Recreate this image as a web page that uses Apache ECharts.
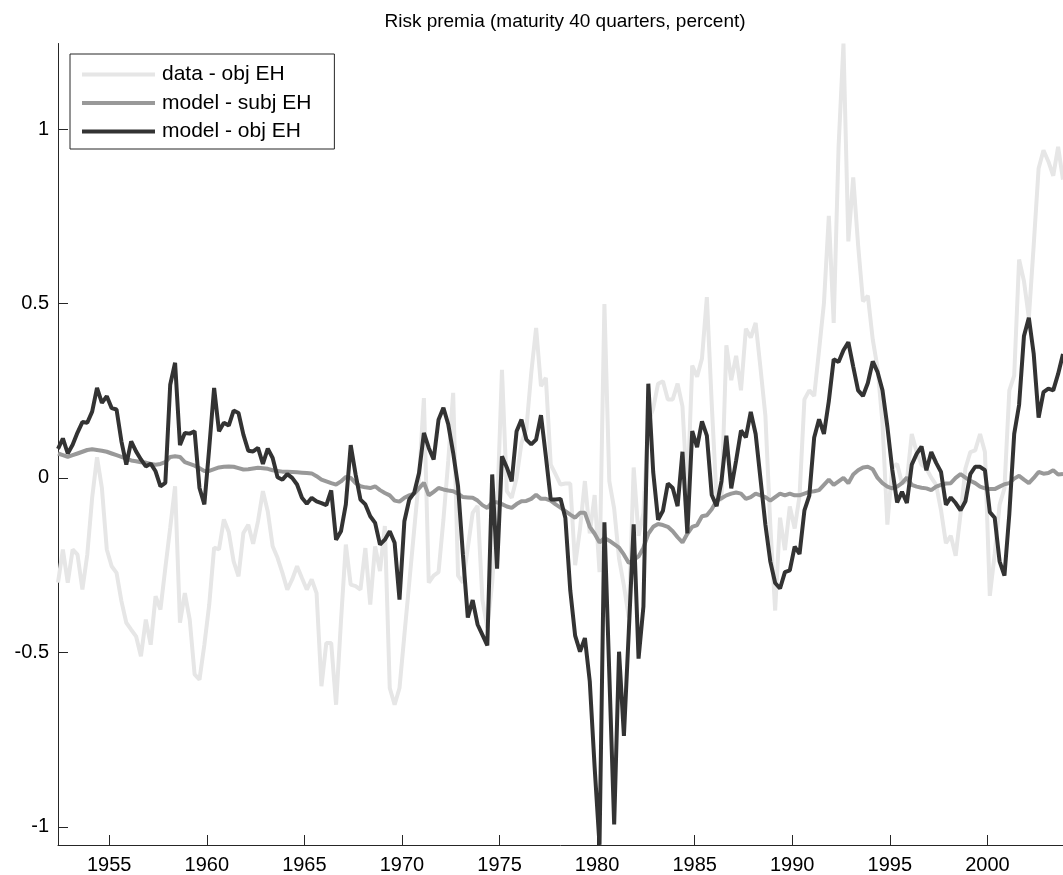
<!DOCTYPE html>
<html lang="en">

<head>
  <meta charset="UTF-8" />
  <title>Risk premia</title>
  <script src="https://cdn.jsdelivr.net/npm/echarts@6.0.0/dist/echarts.min.js"></script>
  <style>
    html, body { margin: 0; padding: 0; background: #fff; }
    #main { width: 1063px; height: 875px; }
  </style>
</head>

<body>
  <div id="main"></div>
</body>
<script>
  // quarterly observations, first one is 1952Q2 (plotted mid-quarter)
  var firstQuarter = 1952.375;

  var dataObj = [
    -0.30, -0.205, -0.30, -0.205, -0.22, -0.32, -0.22, -0.057, 0.059, -0.029,
    -0.205, -0.253, -0.272, -0.353, -0.415, -0.435, -0.454, -0.511, -0.406, -0.478,
    -0.339, -0.377, -0.258, -0.143, -0.024, -0.415, -0.33, -0.406, -0.563, -0.578,
    -0.478, -0.363, -0.20, -0.205, -0.119, -0.155,
    -0.239, -0.282, -0.158, -0.134, -0.189, -0.124, -0.038, -0.096, -0.196, -0.229,
    -0.272, -0.32, -0.291, -0.253, -0.287, -0.32, -0.291, -0.33, -0.597, -0.473,
    -0.473, -0.65, -0.411, -0.191, -0.306, -0.31, -0.32, -0.201, -0.363, -0.196,
    -0.267, -0.138, -0.602, -0.65, -0.602,
    -0.45, -0.30, -0.15, 0.0, 0.229, -0.3, -0.28, -0.27, -0.12, 0.05,
    0.244, -0.28, -0.3, -0.2, -0.1, -0.08, -0.35, -0.43, -0.3, -0.1,
    0.31, -0.038, -0.057, 0.0, 0.1, 0.14, 0.3, 0.43, 0.263, 0.287,
    0.038, 0.01, -0.019, -0.016, -0.016,
    -0.25, -0.146, -0.009, -0.159, -0.049, -0.27, 0.498, -0.009, -0.088, -0.231,
    -0.309, -0.4, 0.03, -0.166, -0.1, 0.16, 0.199, 0.27, 0.277, 0.225,
    0.225, 0.27, 0.205, -0.05, 0.322, 0.29, 0.342, 0.518, 0.212, -0.062,
    -0.062, 0.38, 0.28, 0.35,
    0.251, 0.428, 0.402, 0.444, 0.314, 0.178, -0.134, -0.38, -0.114, -0.207,
    -0.082, -0.145, -0.051, 0.225, 0.251, 0.235, 0.366, 0.501, 0.751, 0.444,
    0.949, 1.245, 0.678, 0.861, 0.668, 0.506, 0.522, 0.397, 0.314, 0.157,
    -0.134, 0.03, 0.04, -0.015,
    -0.009, 0.126, 0.074, 0.038, 0.027, 0.001, -0.02, -0.093, -0.187, -0.166,
    -0.223, -0.103, 0.027, 0.074, 0.079, 0.126, 0.074, -0.338, -0.218, -0.077,
    -0.03, 0.251, 0.293, 0.626, 0.564, 0.459, 0.668, 0.887, 0.939, 0.907,
    0.866, 0.949, 0.855
  ];

  var modelSubj = [
    0.07, 0.065, 0.06, 0.065, 0.07, 0.075, 0.08, 0.082, 0.08, 0.078,
    0.075, 0.07, 0.065, 0.06, 0.055, 0.05, 0.048, 0.045, 0.044, 0.04,
    0.038, 0.04, 0.045, 0.06, 0.062, 0.06, 0.045, 0.04, 0.035, 0.028,
    0.02, 0.02, 0.025, 0.03, 0.032, 0.033,
    0.032, 0.028, 0.024, 0.025, 0.027, 0.029, 0.028, 0.026, 0.022, 0.02,
    0.018, 0.018, 0.017, 0.016, 0.015, 0.014, 0.013, 0.005, -0.005, -0.01,
    -0.015, -0.019, -0.01, 0.003, 0.0, -0.015, -0.024, -0.027, -0.029, -0.024,
    -0.035, -0.043, -0.05, -0.065, -0.068,
    -0.057, -0.05, -0.045, -0.03, -0.014, -0.05, -0.04, -0.029, -0.033, -0.036,
    -0.038, -0.045, -0.055, -0.056, -0.057, -0.065, -0.078, -0.086, -0.07, -0.07,
    -0.075, -0.082, -0.086, -0.075, -0.067, -0.066, -0.06, -0.048, -0.06, -0.06,
    -0.065, -0.076, -0.085, -0.095,
    -0.105, -0.114, -0.1, -0.1, -0.14, -0.16, -0.185, -0.172, -0.18, -0.19,
    -0.2, -0.22, -0.244, -0.235, -0.225, -0.2, -0.16, -0.14, -0.132, -0.135,
    -0.14, -0.153, -0.17, -0.185, -0.16, -0.14, -0.135, -0.11, -0.107, -0.09,
    -0.065, -0.058, -0.05, -0.045, -0.042,
    -0.045, -0.06, -0.055, -0.045, -0.05, -0.055, -0.065, -0.055, -0.045, -0.05,
    -0.045, -0.05, -0.05, -0.045, -0.04, -0.038, -0.035, -0.02, -0.005, -0.02,
    -0.01, 0.0, -0.015, 0.01, 0.022, 0.03, 0.032, 0.025, 0.0, -0.015,
    -0.025, -0.03, -0.025, -0.015,
    0.001, -0.02, -0.025, -0.028, -0.03, -0.035, -0.025, -0.02, -0.016, -0.015,
    0.0, 0.011, 0.001, -0.008, -0.015, -0.025, -0.03, -0.032, -0.032, -0.025,
    -0.018, -0.015, -0.002, 0.006, -0.005, -0.015, 0.0, 0.017, 0.012, 0.014,
    0.022, 0.01, 0.011
  ];

  var modelObj = [
    0.083, 0.113, 0.07, 0.095, 0.13, 0.16, 0.158, 0.19, 0.258, 0.215,
    0.234, 0.2, 0.196, 0.105, 0.038, 0.105, 0.076, 0.053, 0.033, 0.041,
    0.019, -0.024, -0.014, 0.267, 0.33, 0.094, 0.129, 0.127, 0.134, -0.029,
    -0.076, 0.086, 0.258, 0.134, 0.158, 0.15,
    0.193, 0.186, 0.124, 0.078, 0.076, 0.086, 0.04, 0.084, 0.057, 0.002,
    -0.005, 0.011, 0.0, -0.019, -0.057, -0.074, -0.057, -0.067, -0.072, -0.078,
    -0.036, -0.177, -0.153, -0.076, 0.094, 0.01, -0.062, -0.076, -0.11, -0.129,
    -0.191, -0.177, -0.153, -0.186, -0.349,
    -0.124, -0.062, -0.043, 0.014, 0.129, 0.086, 0.053, 0.167, 0.201, 0.153,
    0.072, -0.024, -0.22, -0.40, -0.35, -0.42, -0.45, -0.48, 0.01, -0.26,
    0.062, 0.03, -0.01, 0.134, 0.167, 0.11, 0.096, 0.11, 0.18, 0.062,
    -0.062, -0.062, -0.06, -0.115, -0.322,
    -0.452, -0.498, -0.459, -0.583, -0.83, -1.052, -0.127, -0.56, -0.993, -0.498,
    -0.739, -0.44, -0.133, -0.518, -0.368, 0.27, 0.017, -0.12, -0.094, -0.016,
    -0.029, -0.081, 0.075, -0.159, 0.134, 0.088, 0.162, 0.121, -0.049, -0.081,
    -0.009, 0.121, -0.03, 0.05,
    0.136, 0.116, 0.189, 0.126, -0.004, -0.134, -0.239, -0.301, -0.317, -0.27,
    -0.265, -0.197, -0.218, -0.093, -0.051, 0.116, 0.168, 0.126, 0.22, 0.34,
    0.332, 0.366, 0.389, 0.319, 0.251, 0.235, 0.272, 0.334, 0.303, 0.251,
    0.147, 0.024, -0.07, -0.04,
    -0.072, 0.038, 0.069, 0.09, 0.022, 0.074, 0.043, 0.017, -0.077, -0.056,
    -0.072, -0.093, -0.067, 0.011, 0.032, 0.032, 0.022, -0.098, -0.114, -0.239,
    -0.28, -0.103, 0.126, 0.209, 0.407, 0.459, 0.355, 0.173, 0.246, 0.256,
    0.251, 0.298, 0.355
  ];

  var yearTicks = [1955, 1960, 1965, 1970, 1975, 1980, 1985, 1990, 1995, 2000];
  var valueTicks = [-1, -0.5, 0, 0.5, 1];

  var dates = dataObj.map(function (v, i) { return firstQuarter + i * 0.25; });

  function pairs(values) {
    return values.map(function (v, i) { return [dates[i], v]; });
  }

  var font = "'Liberation Sans', Arial, sans-serif";
  var axisColor = "#262626";

  var myChart = echarts.init(document.getElementById("main"), null, { renderer: "canvas" });

  var option = {
    animation: false,
    backgroundColor: "#ffffff",
    title: {
      text: "Risk premia (maturity 40 quarters, percent)",
      left: 560,
      top: 7,
      textAlign: "center",
      textStyle: { fontFamily: font, fontSize: 19, fontWeight: "normal", color: "#000" }
    },
    legend: {
      orient: "vertical",
      left: 70,
      top: 54,
      padding: [10, 23, 7, 12],
      itemGap: 7.5,
      itemWidth: 73,
      itemHeight: 4,
      icon: "rect",
      backgroundColor: "#fff",
      borderColor: axisColor,
      borderWidth: 1,
      textStyle: { fontFamily: font, fontSize: 21, color: "#000", lineHeight: 20, padding: [0, 0, 0, 2] },
      data: ["data - obj EH", "model - subj EH", "model - obj EH"]
    },
    grid: { left: 58, right: 0, top: 43.5, bottom: 30 },
    xAxis: {
      type: "value",
      min: firstQuarter,
      max: dates[dates.length - 1],
      splitLine: { show: false },
      axisLine: { onZero: false, lineStyle: { color: axisColor, width: 1 } },
      axisTick: { inside: true, length: 10, customValues: yearTicks, lineStyle: { color: axisColor } },
      axisLabel: {
        customValues: yearTicks, margin: 10, fontFamily: font, fontSize: 20, color: "#000",
        formatter: function (v) { return String(v); }
      }
    },
    yAxis: {
      type: "value",
      min: -1.052,
      max: 1.245,
      splitLine: { show: false },
      axisLine: { show: true, onZero: false, lineStyle: { color: axisColor, width: 1 } },
      axisTick: { show: true, inside: true, length: 10, customValues: valueTicks, lineStyle: { color: axisColor } },
      axisLabel: {
        customValues: valueTicks, margin: 9, fontFamily: font, fontSize: 20, color: "#000",
        formatter: function (v) { return String(v); }
      }
    },
    series: [
      {
        name: "data - obj EH",
        type: "line",
        showSymbol: false,
        color: "#e6e6e6",
        lineStyle: { width: 4, color: "#e6e6e6" },
        data: pairs(dataObj)
      },
      {
        name: "model - subj EH",
        type: "line",
        showSymbol: false,
        color: "#999999",
        lineStyle: { width: 4, color: "#999999" },
        data: pairs(modelSubj)
      },
      {
        name: "model - obj EH",
        type: "line",
        showSymbol: false,
        color: "#333333",
        lineStyle: { width: 4, color: "#333333" },
        data: pairs(modelObj)
      }
    ]
  };

  myChart.setOption(option);
</script>

</html>
